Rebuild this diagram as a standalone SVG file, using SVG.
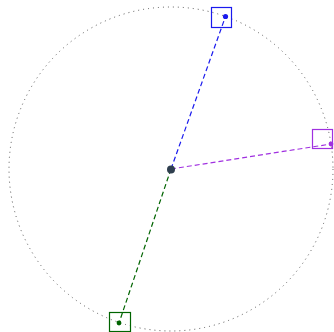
<svg xmlns="http://www.w3.org/2000/svg" width="334" height="332" viewBox="0 0 334 332">
<style>
.ring{fill:none;stroke:#555;stroke-width:1;stroke-dasharray:1 4}
.box{fill:none;stroke-width:1.2}
.conn{fill:none;stroke-width:1.2;stroke-dasharray:5 3}
</style>
<rect width="334" height="332" fill="#fff"/>
<circle class="ring" cx="171" cy="169" r="162"/>
<g id="connectors">
<line class="conn" x1="171" y1="169" x2="225.5" y2="16.5" stroke="#1a1aee"/>
<line class="conn" x1="171" y1="169" x2="331" y2="144" stroke="#a030e0"/>
<line class="conn" x1="171" y1="169" x2="119" y2="323" stroke="#006400"/>
</g>
<g id="center"><circle cx="171" cy="169.5" r="4" fill="#2f3f4f"/></g>
<g id="blue"><rect class="box" x="211.5" y="7.5" width="20" height="20" stroke="#1a1aee"/><circle cx="225.5" cy="16.5" r="2.6" fill="#1a1aee"/></g>
<g id="purple"><rect class="box" x="312.5" y="129.5" width="20" height="19" stroke="#a030e0"/><circle cx="331" cy="144" r="2.4" fill="#a030e0"/></g>
<g id="green"><rect class="box" x="109.5" y="312.5" width="21" height="19" stroke="#006400"/><circle cx="119" cy="323" r="2.4" fill="#006400"/></g>
</svg>
